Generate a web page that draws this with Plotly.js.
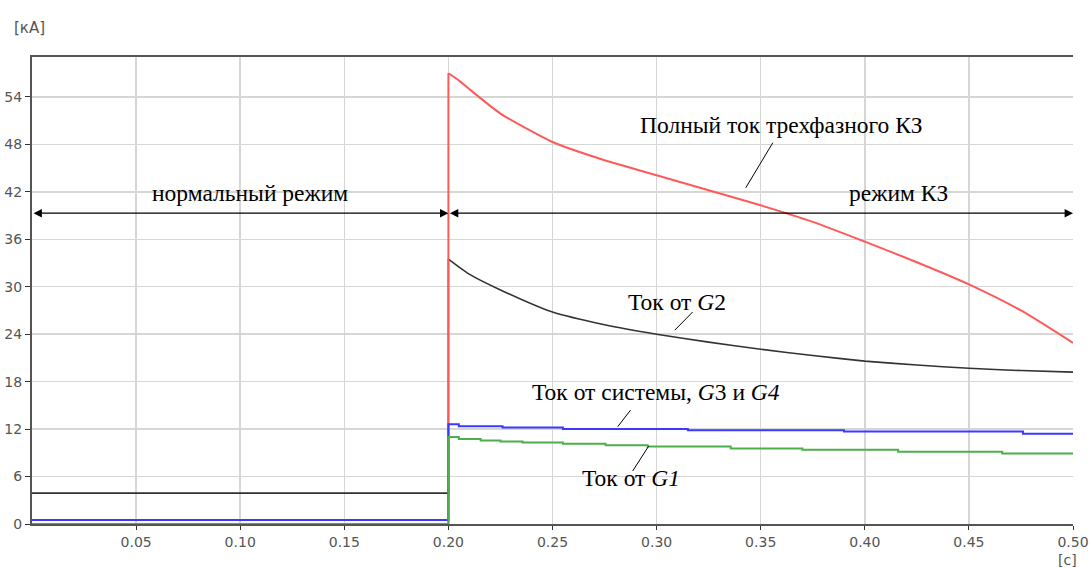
<!DOCTYPE html>
<html><head><meta charset="utf-8">
<script src="https://cdn.plot.ly/plotly-3.0.1.min.js"></script>
<style>body{margin:0;background:#fff}#c{width:1092px;height:568px}</style>
</head><body><div id="c"></div>
<script>
// Full three-phase short-circuit current
const totalT = [0.2, 0.2, 0.205, 0.21, 0.225, 0.25, 0.275, 0.3, 0.325, 0.35, 0.375, 0.4, 0.425, 0.45, 0.475, 0.5];
const totalI = [0, 57.0, 56.1, 55.0, 51.9, 48.3, 46.0, 44.1, 42.2, 40.3, 38.2, 35.7, 33.1, 30.3, 27.0, 22.9];
// Current from G2
const g2T = [0, 0.2, 0.2, 0.21, 0.225, 0.25, 0.275, 0.3, 0.325, 0.35, 0.375, 0.4, 0.425, 0.45, 0.475, 0.5];
const g2I = [3.9, 3.9, 33.5, 31.6, 29.6, 26.8, 25.2, 24.0, 23.0, 22.1, 21.3, 20.6, 20.1, 19.7, 19.4, 19.2];
// Current from system, G3 and G4 (stepwise)
const sysT = [0, 0.2, 0.2, 0.205, 0.226, 0.255, 0.315, 0.39, 0.476, 0.5];
const sysI = [0.5, 0.5, 12.6, 12.35, 12.2, 12.0, 11.85, 11.7, 11.4, 11.4];
// Current from G1 (stepwise)
const g1T = [0, 0.2, 0.2, 0.205, 0.2155, 0.225, 0.2356, 0.255, 0.2755, 0.2957, 0.3356, 0.37, 0.416, 0.466, 0.5];
const g1I = [0, 0, 11.0, 10.75, 10.56, 10.43, 10.3, 10.15, 9.95, 9.8, 9.55, 9.4, 9.15, 8.9, 8.9];

const xTicks = [0.05, 0.10, 0.15, 0.20, 0.25, 0.30, 0.35, 0.40, 0.45, 0.50];
const yTicks = [0, 6, 12, 18, 24, 30, 36, 42, 48, 54];

const serif = {family: 'Liberation Serif, Times New Roman, serif', size: 23.5, color: '#000'};
const sans = {family: 'DejaVu Sans, Verdana, sans-serif', size: 14, color: '#555'};
const unitFont = {family: 'DejaVu Sans, Verdana, sans-serif', size: 15, color: '#555'};

const black = {color: '#333333', width: 1.6};
const red = {color: '#ff5a5a', width: 2};
const traces = [
  {x: g2T.slice(0, 3), y: g2I.slice(0, 3), mode: 'lines', line: black},
  {x: g2T.slice(2), y: g2I.slice(2), mode: 'lines', line: Object.assign({shape: 'spline', smoothing: 0.6}, black)},
  {x: totalT.slice(0, 2), y: totalI.slice(0, 2), mode: 'lines', line: red},
  {x: totalT.slice(1), y: totalI.slice(1), mode: 'lines', line: Object.assign({shape: 'spline', smoothing: 0.6}, red)},
  {x: sysT, y: sysI, mode: 'lines', line: {color: '#3a3aff', width: 2, shape: 'hv'}},
  {x: g1T, y: g1I, mode: 'lines', line: {color: '#4caf4c', width: 2, shape: 'hv'}}
];

function leader(x0, y0, x1, y1) {
  return {type: 'line', xref: 'x', yref: 'y', x0: x0, y0: y0, x1: x1, y1: y1, line: {color: '#000', width: 1}};
}

const layout = {
  width: 1092, height: 568,
  margin: {l: 32, r: 19, t: 57, b: 44},
  paper_bgcolor: '#fff', plot_bgcolor: '#fff',
  showlegend: false,
  xaxis: {
    range: [0, 0.5], tickvals: xTicks, tickformat: '.2f',
    showgrid: true, gridcolor: '#d6d6d6', gridwidth: 1.5,
    showline: true, linecolor: '#555', linewidth: 2, mirror: true,
    ticks: 'outside', ticklen: 4, tickcolor: '#333',
    zeroline: false, tickfont: sans
  },
  yaxis: {
    range: [0, 59.05], tickvals: yTicks,
    showgrid: true, gridcolor: '#d6d6d6', gridwidth: 1.5,
    showline: true, linecolor: '#555', linewidth: 2,
    ticks: 'outside', ticklen: 5, tickcolor: '#333',
    zeroline: false, tickfont: sans
  },
  shapes: [
    leader(0.3558, 48.2, 0.3428, 42.5),
    leader(0.3173, 26.8, 0.3087, 24.5),
    leader(0.2875, 14.4, 0.2813, 12.3),
    leader(0.2962, 9.86, 0.2885, 6.7)
  ],
  annotations: [
    {xref: 'paper', yref: 'paper', x: -0.019, y: 1.062, xanchor: 'left', yanchor: 'middle', showarrow: false,
     text: '[кА]', font: unitFont},
    {xref: 'paper', yref: 'paper', x: 0.995, y: -0.077, xanchor: 'center', yanchor: 'middle', showarrow: false,
     text: '[c]', font: sans},
    {xref: 'x', yref: 'y', axref: 'x', ayref: 'y', x: 0.2, y: 39.3, ax: 0, ay: 39.3, text: '',
     showarrow: true, arrowside: 'end+start', arrowhead: 2, arrowsize: 1.4, arrowwidth: 1.2, arrowcolor: '#000'},
    {xref: 'x', yref: 'y', axref: 'x', ayref: 'y', x: 0.5, y: 39.3, ax: 0.2, ay: 39.3, text: '',
     showarrow: true, arrowside: 'end+start', arrowhead: 2, arrowsize: 1.4, arrowwidth: 1.2, arrowcolor: '#000'},
    {xref: 'x', yref: 'y', x: 0.1048, y: 41.9, showarrow: false, text: 'нормальный режим', font: serif},
    {xref: 'x', yref: 'y', x: 0.4163, y: 41.9, showarrow: false, text: 'режим КЗ', font: serif},
    {xref: 'x', yref: 'y', x: 0.360, y: 50.5, showarrow: false, text: 'Полный ток трехфазного КЗ', font: serif},
    {xref: 'x', yref: 'y', x: 0.3096, y: 28.1, showarrow: false, text: 'Ток от <i>G</i>2', font: serif},
    {xref: 'x', yref: 'y', x: 0.2995, y: 16.7, showarrow: false, text: 'Ток от системы, <i>G</i>3 и <i>G4</i>', font: serif},
    {xref: 'x', yref: 'y', x: 0.2875, y: 5.8, showarrow: false, text: 'Ток от <i>G1</i>', font: serif}
  ]
};

Plotly.newPlot('c', traces, layout, {displayModeBar: false, staticPlot: true});
</script>
</body></html>
